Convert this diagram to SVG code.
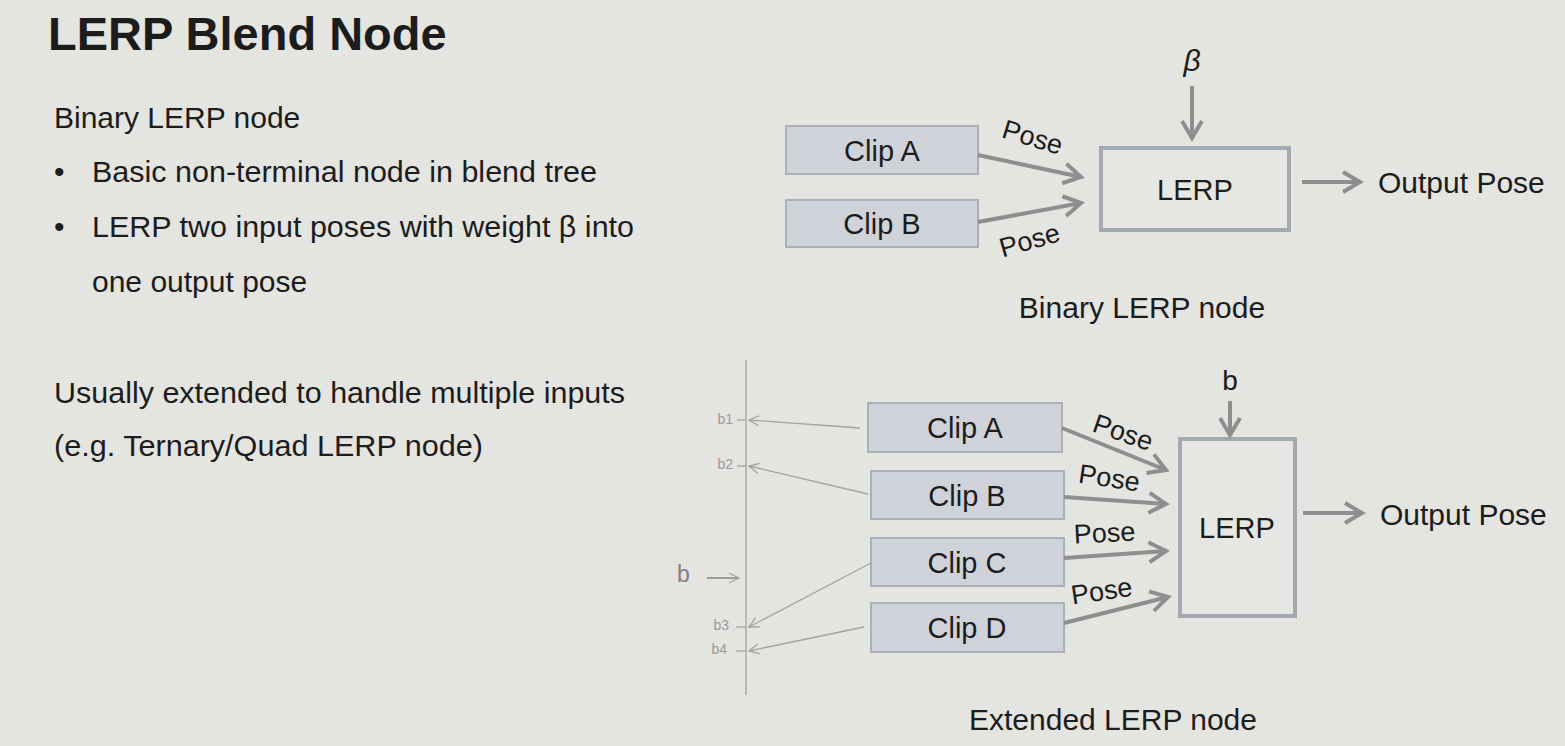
<svg xmlns="http://www.w3.org/2000/svg" width="1565" height="746" viewBox="0 0 1565 746">
<defs>
<style>
text{font-family:"Liberation Sans",Arial,sans-serif;fill:#1c1c1c}
.title{font-size:47px;font-weight:bold}
.body{font-size:30px}
.clip{fill:#cfd3d9;stroke:#a9b0b8;stroke-width:2}
.lerp{fill:#e6e6e3;stroke:#a2a9b0;stroke-width:4}
.ctext{font-size:29px;text-anchor:middle}
.pose{font-size:27px;text-anchor:middle}
.thick{stroke:#8e8e8e;stroke-width:4;fill:none;marker-end:url(#ah)}
.thin{stroke:#a3a3a3;stroke-width:1.3;fill:none}
.thinarr{stroke:#a3a3a3;stroke-width:1.3;fill:none;marker-end:url(#ahs)}
.small{font-size:14px;fill:#9a9a9a;text-anchor:end}
</style>
<marker id="ah" markerUnits="userSpaceOnUse" viewBox="-22 -14 30 28" refX="0" refY="0" markerWidth="30" markerHeight="28" orient="auto" overflow="visible">
<path d="M-17,-10 L0,0 L-17,10" fill="none" stroke="#8e8e8e" stroke-width="4"/>
</marker>
<marker id="ahs" markerUnits="userSpaceOnUse" viewBox="-12 -6 16 12" refX="0" refY="0" markerWidth="16" markerHeight="12" orient="auto" overflow="visible">
<path d="M-10,-5 L0,0 L-10,5" fill="none" stroke="#a3a3a3" stroke-width="1.3"/>
</marker>
</defs>
<rect width="1565" height="746" fill="#e4e4e0"/>

<g id="text-left">
<text class="title" x="48" y="50">LERP Blend Node</text>
<text class="body" x="54" y="128">Binary LERP node</text>
<text class="body" x="54" y="182">•</text>
<text class="body" x="92" y="182" textLength="505" lengthAdjust="spacingAndGlyphs">Basic non-terminal node in blend tree</text>
<text class="body" x="54" y="237">•</text>
<text class="body" x="92" y="237" textLength="542" lengthAdjust="spacingAndGlyphs">LERP two input poses with weight β into</text>
<text class="body" x="92" y="292">one output pose</text>
<text class="body" x="54" y="403" textLength="571" lengthAdjust="spacingAndGlyphs">Usually extended to handle multiple inputs</text>
<text class="body" x="54" y="456" textLength="429" lengthAdjust="spacingAndGlyphs">(e.g. Ternary/Quad LERP node)</text>
</g>

<!-- Binary diagram -->
<g id="bin-clipA"><rect class="clip" x="786" y="126" width="192" height="48"/><text class="ctext" x="882" y="161">Clip A</text></g>
<g id="bin-clipB"><rect class="clip" x="786" y="200" width="192" height="47"/><text class="ctext" x="882" y="234">Clip B</text></g>
<g id="bin-lerp"><rect class="lerp" x="1101" y="148" width="188" height="82"/><text class="ctext" x="1195" y="200">LERP</text></g>
<g id="bin-beta"><text x="1192" y="71" style="font-size:30px;font-style:italic;text-anchor:middle">β</text></g>
<g id="bin-output"><text x="1378" y="193" style="font-size:30px">Output Pose</text></g>
<g id="bin-caption"><text class="body" x="1142" y="318" text-anchor="middle">Binary LERP node</text></g>

<!-- Extended diagram -->
<g id="ext-clipA"><rect class="clip" x="868" y="403" width="194" height="49"/><text class="ctext" x="965" y="438">Clip A</text></g>
<g id="ext-clipB"><rect class="clip" x="871" y="471" width="193" height="48"/><text class="ctext" x="967" y="506">Clip B</text></g>
<g id="ext-clipC"><rect class="clip" x="871" y="538" width="193" height="48"/><text class="ctext" x="967" y="573">Clip C</text></g>
<g id="ext-clipD"><rect class="clip" x="871" y="603" width="193" height="49"/><text class="ctext" x="967" y="638">Clip D</text></g>
<g id="ext-lerp"><rect class="lerp" x="1180" y="439" width="115" height="177"/><text class="ctext" x="1237" y="538">LERP</text></g>
<g id="ext-b"><text x="1230" y="390" style="font-size:28px;text-anchor:middle">b</text></g>
<g id="ext-output"><text x="1380" y="525" style="font-size:30px">Output Pose</text></g>
<g id="ext-caption"><text class="body" x="1113" y="730" text-anchor="middle">Extended LERP node</text></g>
<g id="ext-axis">
<line class="thin" x1="746" y1="360" x2="746" y2="695"/>
<text class="small" x="733" y="424">b1</text>
<text class="small" x="733" y="469">b2</text>
<text class="small" x="729" y="630">b3</text>
<text class="small" x="727" y="654">b4</text>
<text x="677" y="582" style="font-size:23px;fill:#808080">b</text>
</g>

<g id="connectors">
<!-- binary -->
<line class="thick" x1="1192" y1="86" x2="1192" y2="138"/>
<line class="thick" x1="978" y1="155" x2="1081" y2="177"/>
<line class="thick" x1="978" y1="222" x2="1081" y2="203"/>
<line class="thick" x1="1302" y1="182" x2="1360" y2="182"/>
<text class="pose" x="1030" y="146" transform="rotate(17 1030 146)">Pose</text>
<text class="pose" x="1032" y="249" transform="rotate(-16 1032 249)">Pose</text>
<!-- extended thick -->
<line class="thick" x1="1230" y1="401" x2="1230" y2="435"/>
<line class="thick" x1="1062" y1="428" x2="1166" y2="470"/>
<line class="thick" x1="1064" y1="497" x2="1166" y2="504"/>
<line class="thick" x1="1064" y1="558" x2="1166" y2="551"/>
<line class="thick" x1="1064" y1="623" x2="1168" y2="597"/>
<line class="thick" x1="1303" y1="513" x2="1362" y2="513"/>
<text class="pose" x="1120" y="441" transform="rotate(19 1120 441)">Pose</text>
<text class="pose" x="1108" y="487" transform="rotate(8.5 1108 487)">Pose</text>
<text class="pose" x="1105" y="542" transform="rotate(-3 1105 542)">Pose</text>
<text class="pose" x="1103" y="600" transform="rotate(-8.5 1103 600)">Pose</text>
<!-- extended thin -->
<line class="thin" x1="737" y1="420" x2="746" y2="420"/>
<line class="thin" x1="737" y1="466" x2="746" y2="466"/>
<line class="thin" x1="736" y1="627" x2="746" y2="627"/>
<line class="thin" x1="736" y1="651" x2="746" y2="651"/>
<line class="thinarr" x1="860" y1="428" x2="749" y2="420"/>
<line class="thinarr" x1="868" y1="494" x2="749" y2="466"/>
<line class="thinarr" x1="871" y1="563" x2="749" y2="627"/>
<line class="thinarr" x1="864" y1="627" x2="749" y2="651"/>
<line class="thinarr" x1="707" y1="578" x2="739" y2="578" style="stroke:#8a8a8a;stroke-width:1.6"/>
</g>
</svg>
